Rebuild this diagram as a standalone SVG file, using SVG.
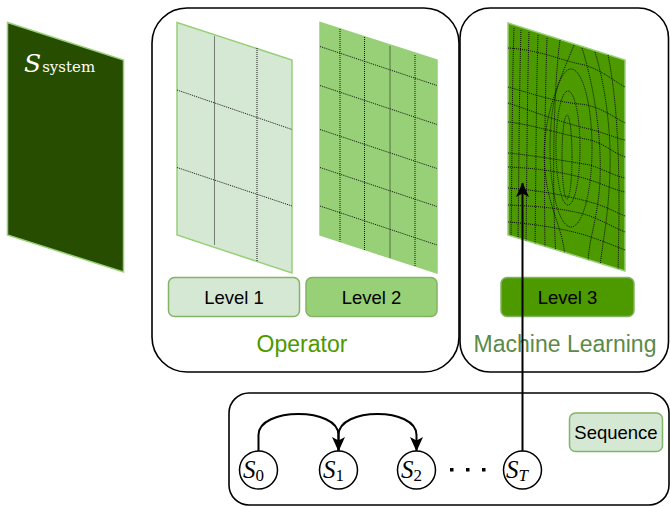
<svg xmlns="http://www.w3.org/2000/svg" width="670" height="507" viewBox="0 0 670 507">
  <style>
    .box { fill: #ffffff; stroke: #000000; stroke-width: 1.6; }
    .panel { stroke: #97d077; stroke-width: 1.5; }
    .grid { fill: none; stroke: #000000; stroke-width: 1; stroke-dasharray: 1 1; opacity: 0.9; }
    .lvl { stroke: #82b366; stroke-width: 1.5; }
    .lbl { font-family: "Liberation Sans", Arial, sans-serif; font-size: 18.5px; fill: #000000; text-anchor: middle; }
    .group { font-family: "Liberation Sans", Arial, sans-serif; font-size: 23px; text-anchor: middle; }
    .math { font-family: "Liberation Serif", "Times New Roman", serif; fill: #000000; }
    .state { fill: #ffffff; stroke: #000000; stroke-width: 1.5; }
    .edge { fill: none; stroke: #000000; stroke-width: 2; }
  </style>
  <defs>
    <marker id="arrow" viewBox="0 0 15 15" refX="14" refY="7.5" markerWidth="15" markerHeight="15" orient="auto" markerUnits="userSpaceOnUse">
      <path d="M0,1 L14.5,7.5 L0,14 L3.5,7.5 Z" fill="#000000"/>
    </marker>
    <clipPath id="clip3">
      <polygon points="508,23 625,60 625,271 508,235"/>
    </clipPath>
  </defs>

  <!-- container boxes -->
  <g id="operator-box">
    <rect class="box" x="152" y="8" width="307" height="364" rx="35" ry="35"/>
    <text class="group" x="302" y="352" fill="#4d9900">Operator</text>
  </g>
  <g id="ml-box">
    <rect class="box" x="460" y="8" width="208.5" height="364" rx="30" ry="30"/>
    <text class="group" x="565" y="352" fill="#5b8a48">Machine Learning</text>
  </g>
  <g id="sequence-box">
    <rect class="box" x="229" y="393" width="440" height="112" rx="20" ry="20"/>
  </g>

  <!-- system plane -->
  <g id="system">
    <polygon class="panel" points="7.5,22.5 123.5,60 123.5,272 7.5,235" fill="#264d00"/>
    <text x="24" y="72" font-family="DejaVu Serif, Liberation Serif, serif" font-style="italic" font-size="25" fill="#ffffff">S<tspan font-style="normal" font-size="15" dx="1">system</tspan></text>
  </g>

  <!-- level 1 plane -->
  <g id="level1-plane">
    <polygon class="panel" points="177,22.5 292,60 292,273 177,235" fill="#d5e8d4"/>
    <path class="grid" d="M214.5,36.5 V245 M257,48 V261.5 M177,90 L292,129.5 M177,167.5 L292,206"/>
  </g>

  <!-- level 2 plane -->
  <g id="level2-plane">
    <polygon class="panel" points="320,22.5 437,60 437,273 320,235" fill="#97d077"/>
    <path class="grid" d="M340,29 V241.5 M364.5,37 V250 M390,46.5 V258.5 M415,55 V266.5 M320,46.5 L437,85.5 M320,85.5 L437,124.5 M320,129.5 L437,168.5 M320,167.5 L437,206.5 M320,206 L437,245"/>
  </g>

  <!-- level 3 plane: deformed grid -->
  <g id="level3-plane">
    <polygon class="panel" points="508,23 625,60 625,271 508,235" fill="#4d9900"/>
    <g clip-path="url(#clip3)">
      <!-- vortex rings -->
      <ellipse class="grid" cx="567" cy="157" rx="5" ry="42"/>
      <ellipse class="grid" cx="568" cy="148" rx="12" ry="57"/>
      <ellipse class="grid" cx="571" cy="148" rx="21" ry="79"/>
      <!-- near-vertical lines, left -->
      <path class="grid" d="M514,28 C512,90 512,170 511,240 M521,30 C519,100 519,170 518,242 M529,32 C527,100 527,170 526,244 M538,35 C536,100 536,175 535,247 M547,38 C545,100 544,180 545,250"/>
      <!-- lines bending around the rings -->
      <path class="grid" d="M560,40 C553,90 552,200 556,255 M574,45 C560,80 540,120 545,170 C548,210 565,230 565,262"/>
      <path class="grid" d="M582,48 C592,80 602,130 600,180 C598,220 588,240 588,265"/>
      <path class="grid" d="M595,52 C606,88 613,140 609,190 C607,225 602,245 600,268"/>
      <path class="grid" d="M608,55 C617,100 621,160 618,270"/>
      <!-- horizontal wavy lines -->
      <path class="grid" d="M508,48 C540,50 560,60 580,64 C600,68 615,82 625,87"/>
      <path class="grid" d="M508,87 C530,93 555,102 580,104 C600,106 615,118 625,123"/>
      <path class="grid" d="M508,103 C535,112 560,122 585,128 C603,132 615,138 625,140"/>
      <path class="grid" d="M508,122 C530,124 560,134 590,140 C605,144 612,152 625,157"/>
      <path class="grid" d="M508,153 C530,155 560,160 590,165 C605,170 615,176 625,178"/>
      <path class="grid" d="M508,167 C535,168 565,172 590,180 C605,185 615,190 625,192"/>
      <path class="grid" d="M508,188 C535,190 560,194 590,202 C605,206 615,212 625,216"/>
      <path class="grid" d="M508,205 C535,206 565,208 590,216 C605,222 615,228 625,232"/>
      <path class="grid" d="M508,222 C535,224 560,228 585,235 C600,240 615,246 625,250"/>
    </g>
  </g>

  <!-- level labels -->
  <g id="level1">
    <rect class="lvl" x="168.5" y="277.5" width="131" height="39" rx="6" fill="#d5e8d4"/>
    <text class="lbl" x="234" y="303.5">Level 1</text>
  </g>
  <g id="level2">
    <rect class="lvl" x="306" y="277.5" width="131" height="39" rx="6" fill="#97d077"/>
    <text class="lbl" x="371.5" y="303.5">Level 2</text>
  </g>
  <g id="level3">
    <rect class="lvl" x="501" y="277.5" width="133" height="39" rx="6" fill="#4d9900" stroke="#97d077"/>
    <text class="lbl" x="567.5" y="303.5">Level 3</text>
  </g>
  <g id="sequence">
    <rect class="lvl" x="569.5" y="413" width="93" height="38.5" rx="6" fill="#d5e8d4" stroke="#97d077"/>
    <text class="lbl" x="616" y="438.5" font-size="18">Sequence</text>
  </g>

  <!-- connectors -->
  <g id="connectors">
    <path class="edge" d="M258.5,451 V435 C258.5,407 338.5,407 338.5,435 V451" marker-end="url(#arrow)"/>
    <path class="edge" d="M338.5,451 V435 C338.5,407 416.5,407 416.5,435 V451" marker-end="url(#arrow)"/>
    <path class="edge" d="M522.5,451 V183" marker-end="url(#arrow)"/>
  </g>

  <!-- sequence states -->
  <g id="s0">
    <circle class="state" cx="258.5" cy="470" r="19"/>
    <text class="math" x="243" y="478" font-size="25" font-style="italic">S<tspan font-style="normal" font-size="17" dy="3">0</tspan></text>
  </g>
  <g id="s1">
    <circle class="state" cx="338.5" cy="470" r="19"/>
    <text class="math" x="323" y="478" font-size="25" font-style="italic">S<tspan font-style="normal" font-size="17" dy="3">1</tspan></text>
  </g>
  <g id="s2">
    <circle class="state" cx="416.5" cy="470" r="19"/>
    <text class="math" x="401" y="478" font-size="25" font-style="italic">S<tspan font-style="normal" font-size="17" dy="3">2</tspan></text>
  </g>
  <g id="dots">
    <rect x="450" y="468" width="3.5" height="3.5" fill="#000000"/>
    <rect x="466" y="468" width="3.5" height="3.5" fill="#000000"/>
    <rect x="482" y="468" width="3.5" height="3.5" fill="#000000"/>
  </g>
  <g id="sT">
    <circle class="state" cx="522.5" cy="470" r="19"/>
    <text class="math" x="506" y="478" font-size="25" font-style="italic">S<tspan font-size="17" dy="3">T</tspan></text>
  </g>
</svg>
